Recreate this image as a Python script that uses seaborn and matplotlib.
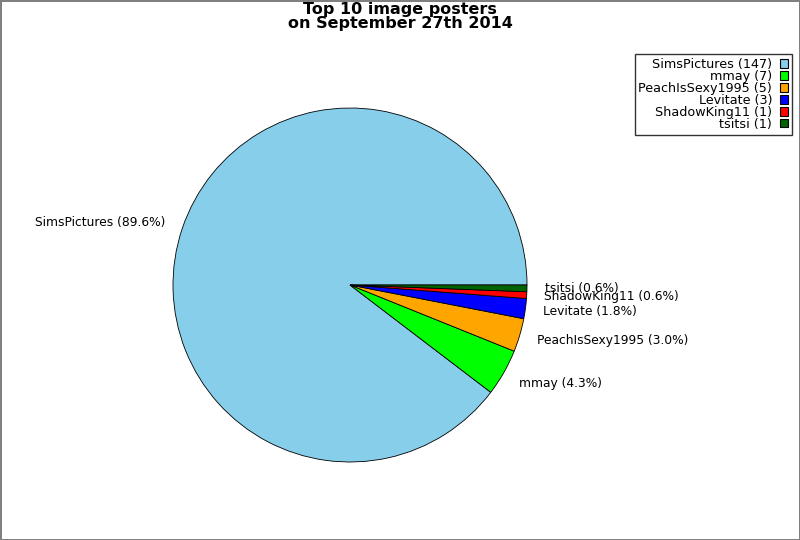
import matplotlib
matplotlib.use("Agg")
import matplotlib.pyplot as plt
import seaborn as sns
from matplotlib.patches import Patch

names = ["SimsPictures", "mmay", "PeachIsSexy1995", "Levitate", "ShadowKing11", "tsitsi"]
counts = [147, 7, 5, 3, 1, 1]
colors = ["#87CEEB", "#00FF00", "#FFA500", "#0000FF", "#FF0000", "#006400"]

sns.set_theme(style="white")
plt.rcParams['font.family'] = ['DejaVu Sans']
plt.rcParams['text.color'] = 'black'

total = sum(counts)
labels = [f"{n} ({c / total * 100:.1f}%)" for n, c in zip(names, counts)]

fig = plt.figure(figsize=(8, 5.4), dpi=100)
fig.patch.set_edgecolor("#808080")
fig.patch.set_linewidth(2)
ax = fig.add_axes([173 / 800, 78 / 540, 354 / 800, 354 / 540])
wedges, texts = ax.pie(counts, labels=labels, colors=colors, startangle=0,
                       counterclock=True, labeldistance=1.1,
                       wedgeprops=dict(edgecolor="black", linewidth=0.6),
                       textprops=dict(fontsize=8.8, color="black"))
texts[1].set_y(texts[1].get_position()[1] - 0.015)
ax.set_xlim(-1, 1)
ax.set_ylim(-1, 1)
ax.set_aspect("auto")

fig.suptitle("Top 10 image posters\non September 27th 2014", fontsize=11.5,
             fontweight="bold", y=1 - 2 / 540, va="top", linespacing=0.95,
             color="black")

handles = [Patch(facecolor=c, edgecolor="black", linewidth=0.8) for c in colors]
leg_labels = [f"{n} ({c})" for n, c in zip(names, counts)]
leg = fig.legend(handles, leg_labels, loc="upper right",
                 bbox_to_anchor=(792 / 800, 1 - 54 / 540), markerfirst=False,
                 fontsize=9.2, labelspacing=-0.08, handlelength=0.65, handleheight=0.65,
                 handletextpad=0.6, borderpad=0.3, fancybox=False, frameon=True,
                 borderaxespad=0)
leg.get_frame().set_edgecolor("black")
leg.get_frame().set_linewidth(1.0)
for t in leg.get_texts():
    t.set_ha("right")
    t.set_color("black")

fig.savefig("out.png", dpi=100, edgecolor=fig.get_edgecolor())
